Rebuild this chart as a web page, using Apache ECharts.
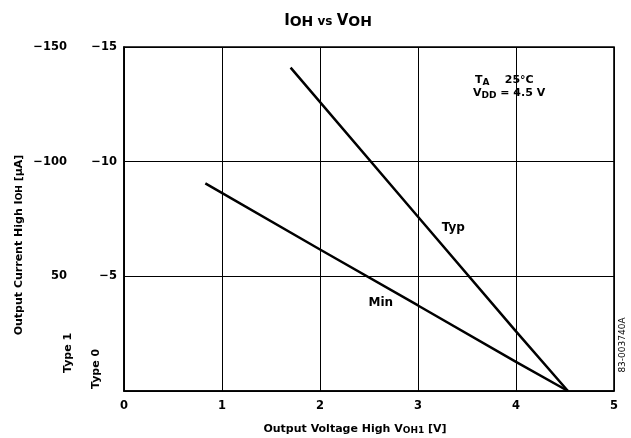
<!DOCTYPE html>
<html>
<head>
<meta charset="utf-8">
<script src="https://cdn.jsdelivr.net/npm/echarts@6/dist/echarts.min.js"></script>
<style>
html,body{margin:0;padding:0;background:#fff;}
#c{width:631px;height:438px;}
</style>
</head>
<body>
<div id="c"></div>
<script>
// ---- data ----
var vohTyp = [1.7, 3.0, 4.0, 4.53];
var iohTyp = [-14.1, -7.6, -2.6, 0];
var vohMin = [0.83, 2.0, 3.0, 4.0, 4.53];
var iohMin = [-9.05, -6.17, -3.73, -1.27, 0];
var xTicks = [0, 1, 2, 3, 4, 5];
var yInnerTicks = [-15, -10, -5, 0];
var yInnerText = ['\u221215', '\u221210', '\u22125', 'Type 0'];
var yOuterTicks = [-150, -100, -50, 0];
var yOuterText = ['\u2212150', '\u2212100', '50', 'Type 1'];

var FONT = '"DejaVu Sans", "Liberation Sans", Arial, sans-serif';
var chart = echarts.init(document.getElementById('c'), null, {renderer: 'canvas'});

function pairs(xs, ys) { return xs.map(function (x, i) { return [x, ys[i]]; }); }
function lookup(ticks, texts) {
  return function (v) {
    var i = ticks.indexOf(Math.round(v));
    if (i < 0 || i === ticks.length - 1) return '';
    return texts[i];
  };
}
var labelStyle = {color: '#000', fontFamily: FONT, fontWeight: 'bold', fontSize: 11.5};

chart.setOption({
  animation: false,
  backgroundColor: '#fff',
  title: {
    text: '{b|I}{s|OH}{v| vs }{b|V}{s|OH}',
    left: 323, top: 8, textAlign: 'center',
    textStyle: {
      rich: {
        b: {fontFamily: FONT, fontWeight: 'bold', fontSize: 15, color: '#000'},
        v: {fontFamily: FONT, fontWeight: 'bold', fontSize: 12, color: '#000', padding: [2, 0, 0, 0]},
        s: {fontFamily: FONT, fontWeight: 'bold', fontSize: 14, color: '#000', padding: [2, 0, 0, 0]}
      }
    }
  },
  grid: {left: 124, right: 17, top: 47, bottom: 47, show: true, borderColor: '#000', borderWidth: 1.6, backgroundColor: 'transparent'},
  xAxis: {
    type: 'value', min: xTicks[0], max: xTicks[xTicks.length - 1], interval: 1,
    axisLine: {show: true, lineStyle: {color: '#000', width: 1.6}},
    axisTick: {show: false},
    splitLine: {show: true, lineStyle: {color: '#000', width: 1}},
    axisLabel: Object.assign({margin: 9}, labelStyle)
  },
  yAxis: [
    {
      type: 'value', min: -15, max: 0, interval: 5, inverse: true, position: 'left',
      axisLine: {show: true, lineStyle: {color: '#000', width: 1.6}},
      axisTick: {show: false},
      splitLine: {show: true, lineStyle: {color: '#000', width: 1}},
      axisLabel: Object.assign({margin: 7, formatter: lookup(yInnerTicks, yInnerText)}, labelStyle)
    },
    {
      type: 'value', min: -150, max: 0, interval: 50, inverse: true, position: 'left', offset: 50,
      axisLine: {show: false}, axisTick: {show: false}, splitLine: {show: false},
      axisLabel: Object.assign({margin: 7, formatter: lookup(yOuterTicks, yOuterText)}, labelStyle)
    }
  ],
  series: [
    {type: 'line', name: 'Typ', data: pairs(vohTyp, iohTyp), yAxisIndex: 0, showSymbol: false, symbol: 'none',
     lineStyle: {color: '#000', width: 2.5}},
    {type: 'line', name: 'Min', data: pairs(vohMin, iohMin), yAxisIndex: 0, showSymbol: false, symbol: 'none',
     lineStyle: {color: '#000', width: 2.5}}
  ]
});

function px(x, y) { return chart.convertToPixel({xAxisIndex: 0, yAxisIndex: 0}, [x, y]); }
var bold = function (size) { return 'bold ' + size + 'px ' + FONT; };
var pTyp = px(3.36, -7.1), pMin = px(2.62, -3.85);
var p0 = px(0, 0);
var subRich = {b: {font: bold(11), fill: '#000'}, s: {font: bold(9), fill: '#000', padding: [4, 0, 0, 0]}};
chart.setOption({
  graphic: [
    {type: 'text', x: pTyp[0], y: pTyp[1], style: {text: 'Typ', font: bold(12), fill: '#000', textAlign: 'center', textVerticalAlign: 'middle'}},
    {type: 'text', x: pMin[0], y: pMin[1], style: {text: 'Min', font: bold(12), fill: '#000', textAlign: 'center', textVerticalAlign: 'middle'}},
    {type: 'text', x: 475, y: 80, style: {
      text: '{b|T}{s|A}{b|    25\u00b0C}', textVerticalAlign: 'middle',
      rich: {b: {font: bold(11), fill: '#000'}, s: {font: bold(9), fill: '#000', padding: [5, 0, 0, 0]}}}},
    {type: 'text', x: 473, y: 93, style: {
      text: '{b|V}{s|DD}{b| = 4.5 V}', textVerticalAlign: 'middle',
      rich: {b: {font: bold(11), fill: '#000'}, s: {font: bold(9), fill: '#000', padding: [5, 0, 0, 0]}}}},
    {type: 'text', x: 355, y: 429, style: {
      text: '{b|Output Voltage High V}{s|OH1}{b| [V]}', textAlign: 'center', textVerticalAlign: 'middle', rich: subRich}},
    {type: 'text', x: 19, y: 245, rotation: Math.PI / 2, style: {
      text: '{b|Output Current High I}{s|OH}{b| [\u03bcA]}', textAlign: 'center', textVerticalAlign: 'middle',
      rich: {b: {font: bold(11), fill: '#000'}, s: {font: bold(9), fill: '#000', padding: [2, 0, 0, 0]}}}},
    {type: 'text', x: p0[0] - 28, y: p0[1] - 2, rotation: Math.PI / 2,
     style: {text: yInnerText[3], font: bold(11), fill: '#000', textAlign: 'left', textVerticalAlign: 'middle'}},
    {type: 'text', x: p0[0] - 56, y: p0[1] - 18, rotation: Math.PI / 2,
     style: {text: yOuterText[3], font: bold(11), fill: '#000', textAlign: 'left', textVerticalAlign: 'middle'}},
    {type: 'text', x: 623, y: 345, rotation: Math.PI / 2,
     style: {text: '83-003740A', font: '9px ' + FONT, fill: '#000', textAlign: 'center', textVerticalAlign: 'middle'}}
  ]
});
</script>
</body>
</html>
